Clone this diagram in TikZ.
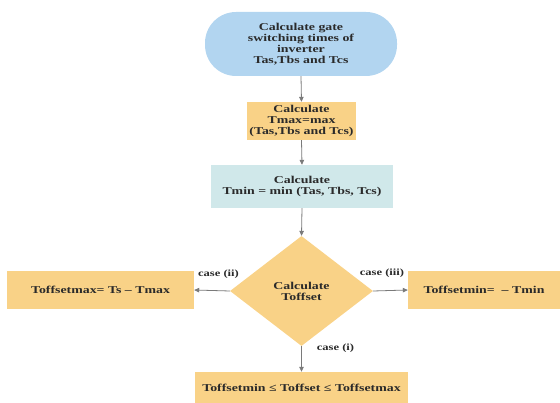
\documentclass[tikz,border=0pt]{standalone}
\usepackage{fontspec}
\setmainfont{Liberation Serif}[FakeStretch=1.32]
\usetikzlibrary{shapes.geometric,arrows.meta}
\definecolor{sblue}{HTML}{B2D5F0}
\definecolor{sorange}{HTML}{F9D287}
\definecolor{scyan}{HTML}{D0E8EA}
\definecolor{sline}{HTML}{7A7A7A}
\definecolor{stext}{HTML}{2A2A2A}
\begin{document}
\begin{tikzpicture}[x=1pt,y=-1pt,
  every node/.style={text=stext,font=\fontsize{10.5}{11}\selectfont\bfseries,align=center,inner sep=0pt},
  obox/.style={rectangle,fill=sorange},
  cbox/.style={rectangle,fill=scyan},
  arr/.style={draw=sline,line width=0.8pt,-{Triangle[length=5pt,width=4.5pt]}},
  lab/.style={font=\fontsize{9.5}{10}\selectfont\bfseries}]
\useasboundingbox (0,0) rectangle (560,403);
\node[rectangle,rounded corners=31pt,fill=sblue,minimum width=192pt,minimum height=64pt] (start) at (301,44)
  {Calculate gate\\switching times of\\inverter\\Tas,Tbs and Tcs};
\node[obox,minimum width=109pt,minimum height=38pt] (tmax) at (301.5,121)
  {Calculate\\Tmax=max\\(Tas,Tbs and Tcs)};
\node[cbox,minimum width=182pt,minimum height=43pt] (tmin) at (302,186.5)
  {Calculate\\Tmin = min (Tas, Tbs, Tcs)};
\node[diamond,fill=sorange,minimum width=143pt,minimum height=110pt] (dec) at (301.5,291)
  {Calculate\\Toffset};
\node[obox,minimum width=187pt,minimum height=38pt] (left) at (100.5,290)
  {Toffsetmax= Ts -- Tmax};
\node[obox,minimum width=152pt,minimum height=38pt] (right) at (484,290)
  {Toffsetmin=~~-- Tmin};
\node[obox,minimum width=213pt,minimum height=31pt] (bot) at (301.5,387.5)
  {\raisebox{-3pt}{Toffsetmin ≤ Toffset ≤ Toffsetmax}};
\draw[arr] (start.south) -- (tmax.north);
\draw[arr] (tmax.south) -- (tmin.north);
\draw[arr] (tmin.south) -- (dec.north);
\draw[arr] (dec.west) -- (left.east);
\draw[arr] (dec.east) -- (right.west);
\draw[arr] (dec.south) -- (bot.north);
\node[lab] (l2) at (218.5,274) {case (ii)};
\node[lab] (l3) at (382,273) {case (iii)};
\node[lab] (l1) at (335.5,348) {case (i)};
\end{tikzpicture}
\end{document}
